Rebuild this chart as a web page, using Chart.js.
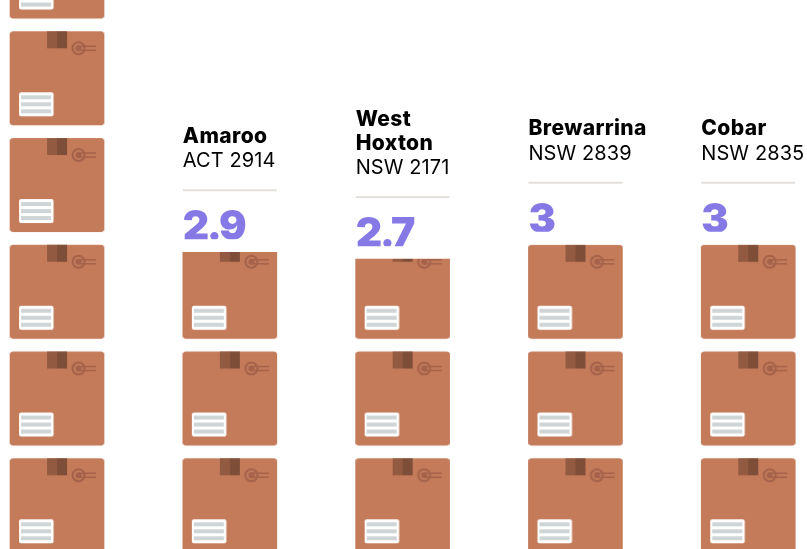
<!DOCTYPE html>
<html>
<head>
<meta charset="utf-8">
<script src="https://cdn.jsdelivr.net/npm/chart.js@4"></script>
<style>
  html, body { margin: 0; background: #fff; overflow: hidden; }
  canvas { display: block; }
</style>
</head>
<body>
<canvas id="myChart" width="807" height="549"></canvas>
<script>
const names = [[""], ["Amaroo"], ["West", "Hoxton"], ["Brewarrina"], ["Cobar"]];
const places = ["", "ACT 2914", "NSW 2171", "NSW 2839", "NSW 2835"];
const valueLabels = ["", "2.9", "2.7", "3", "3"];
// alturas, en cajas (la primera columna se sale por arriba)
const positions = [0, 1, 2, 3, 4];
const boxes = [6, 2.93, 2.865, 3, 3];

const BOX_STEP = 106.75;
const BOX_W = 94;
const BOX_H = 94;

function roundRect(g, x, y, w, h, r, color) {
  g.fillStyle = color;
  g.beginPath();
  g.roundRect(x, y, w, h, r);
  g.fill();
}

// Una caja de carton, dibujada con su esquina arriba a la izquierda en (0, top)
function drawBox(g, top) {
  roundRect(g, 0, top, BOX_W, BOX_H, 3, "#c47b5a");
  g.fillStyle = "#925a40";
  g.fillRect(37, top, 10, 17);
  g.fillStyle = "#7f4e38";
  g.fillRect(47, top, 10, 17);
  g.strokeStyle = "#a4634a";
  g.fillStyle = "#a4634a";
  g.lineWidth = 2;
  g.beginPath();
  g.arc(68.5, top + 17, 6, 0, Math.PI * 2);
  g.stroke();
  g.beginPath();
  g.arc(68.5, top + 17, 3, 0, Math.PI * 2);
  g.fill();
  g.lineWidth = 1.5;
  g.beginPath();
  g.moveTo(68.5, top + 15);
  g.lineTo(86, top + 15);
  g.moveTo(68.5, top + 19);
  g.lineTo(86, top + 19);
  g.stroke();
  roundRect(g, 9, top + 61, 34.5, 24, 2, "#ffffff");
  g.fillStyle = "#cfd5d7";
  g.fillRect(11, top + 64, 30, 4);
  g.fillRect(11, top + 71, 30, 4);
  g.fillRect(11, top + 78, 30, 4);
}

// La baldosa tiene 4 cajas para que el paso de 106.75 px caiga en un entero
const tile = document.createElement("canvas");
tile.width = BOX_W;
tile.height = BOX_STEP * 4;
const tileCtx = tile.getContext("2d");
for (let i = 0; i < 4; i++) drawBox(tileCtx, i * BOX_STEP);

const ctx = document.getElementById("myChart").getContext("2d");
const patterns = positions.map(() => ctx.createPattern(tile, "repeat"));

// Alinea cada patron con su barra y con la base del eje
const patternAlign = {
  id: "patternAlign",
  beforeDatasetsDraw(chart) {
    const base = chart.scales.y.getPixelForValue(0);
    chart.getDatasetMeta(0).data.forEach((bar, i) => {
      patterns[i].setTransform(new DOMMatrix().translate(bar.x - BOX_W / 2, base));
    });
  },
};

// Nombre, lugar, raya y valor encima de cada columna
const columnText = {
  id: "columnText",
  afterDatasetsDraw(chart) {
    const g = chart.ctx;
    chart.getDatasetMeta(0).data.forEach((bar, i) => {
      if (!valueLabels[i]) return;
      const left = bar.x - BOX_W / 2;
      const top = bar.y;
      g.save();
      g.textAlign = "left";
      g.textBaseline = "alphabetic";
      g.fillStyle = "#000000";
      g.font = "800 21px Inter";
      g.letterSpacing = "0.4px";
      names[i].forEach((line, k) => {
        g.fillText(line, left, top - 109.5 - (names[i].length - 1 - k) * 24);
      });
      g.font = "400 20px Inter";
      g.letterSpacing = "0.1px";
      g.fillText(places[i], left, top - 85);
      g.fillStyle = "#e4e1dc";
      g.fillRect(left, top - 63, BOX_W, 2);
      // el numero queda cortado por abajo en las columnas mas bajas
      g.beginPath();
      g.rect(left - 5, top - 60, BOX_W + 10, 47);
      g.clip();
      g.fillStyle = "#8679e6";
      g.font = "900 41px Inter";
      g.letterSpacing = "-2.5px";
      g.fillText(valueLabels[i], left, top - 12);
      g.restore();
    });
  },
};

new Chart(ctx, {
  type: "bar",
  data: {
    datasets: [
      {
        data: positions.map((p, i) => ({ x: p, y: boxes[i] })),
        backgroundColor: patterns,
        borderWidth: 0,
        barThickness: BOX_W,
      },
    ],
  },
  options: {
    responsive: false,
    animation: false,
    layout: { padding: 0 },
    plugins: { legend: { display: false }, tooltip: { enabled: false } },
    scales: {
      x: { type: "linear", display: false, offset: false, min: -0.33, max: 4.34 },
      y: { display: false, min: 0.15, max: 5.293 },
    },
  },
  plugins: [patternAlign, columnText],
});
</script>
</body>
</html>
